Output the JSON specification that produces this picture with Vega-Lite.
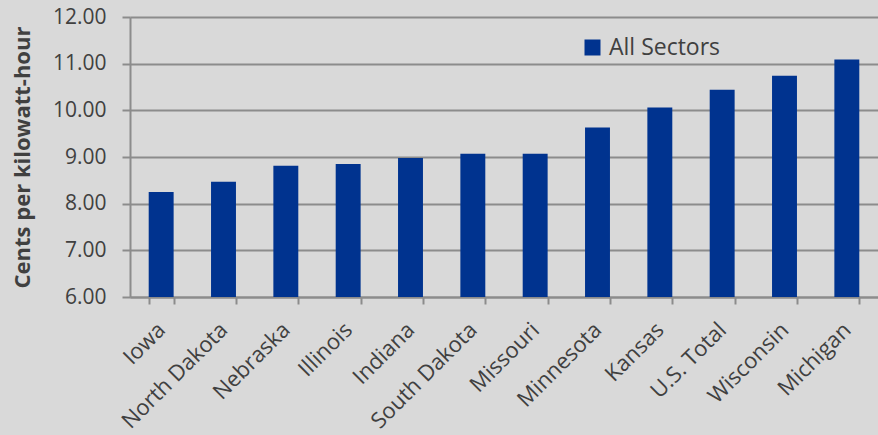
{
  "$schema": "https://vega.github.io/schema/vega-lite/v6.json",
  "width": 748,
  "height": 280,
  "autosize": "none",
  "padding": {"left": 130, "top": 17, "right": 0, "bottom": 138},
  "background": "#d9d9d9",
  "config": {
    "view": {"stroke": null},
    "font": "Open Sans",
    "axis": {"labelColor": "#404040", "titleColor": "#404040"}
  },
  "data": {
    "values": [
      {"state": "Iowa", "cents": 8.25, "series": "All Sectors"},
      {"state": "North Dakota", "cents": 8.47, "series": "All Sectors"},
      {"state": "Nebraska", "cents": 8.81, "series": "All Sectors"},
      {"state": "Illinois", "cents": 8.85, "series": "All Sectors"},
      {"state": "Indiana", "cents": 8.98, "series": "All Sectors"},
      {"state": "South Dakota", "cents": 9.07, "series": "All Sectors"},
      {"state": "Missouri", "cents": 9.07, "series": "All Sectors"},
      {"state": "Minnesota", "cents": 9.63, "series": "All Sectors"},
      {"state": "Kansas", "cents": 10.06, "series": "All Sectors"},
      {"state": "U.S. Total", "cents": 10.44, "series": "All Sectors"},
      {"state": "Wisconsin", "cents": 10.74, "series": "All Sectors"},
      {"state": "Michigan", "cents": 11.09, "series": "All Sectors"}
    ]
  },
  "mark": {"type": "bar", "clip": true},
  "encoding": {
    "x": {
      "field": "state",
      "type": "nominal",
      "sort": null,
      "scale": {"paddingInner": 0.6, "paddingOuter": 0.3},
      "axis": {
        "title": null,
        "labelAngle": -45,
        "labelAlign": "right",
        "labelBaseline": "middle",
        "labelFontSize": 22,
        "labelPadding": 22,
        "tickBand": "extent",
        "tickSize": 7,
        "tickColor": "#8c8c8c",
        "tickWidth": 2,
        "domainColor": "#8c8c8c",
        "domainWidth": 2
      }
    },
    "y": {
      "field": "cents",
      "type": "quantitative",
      "scale": {"domain": [6, 12], "nice": false, "zero": false},
      "axis": {
        "title": "Cents per kilowatt-hour",
        "titleFontSize": 22,
        "titleFontWeight": "bold",
        "titlePadding": 18,
        "format": ".2f",
        "values": [6, 7, 8, 9, 10, 11, 12],
        "labelFontSize": 21,
        "labelPadding": 16,
        "tickSize": 8,
        "tickColor": "#8c8c8c",
        "tickWidth": 2,
        "grid": true,
        "gridColor": "#8c8c8c",
        "gridWidth": 2,
        "domainColor": "#8c8c8c",
        "domainWidth": 2
      }
    },
    "color": {
      "field": "series",
      "type": "nominal",
      "scale": {"range": ["#00338f"]},
      "legend": {
        "title": null,
        "orient": "none",
        "legendX": 451,
        "legendY": 19,
        "symbolType": "square",
        "symbolSize": 256,
        "symbolStrokeWidth": 0,
        "labelFontSize": 23,
        "labelColor": "#404040",
        "labelOffset": 5
      }
    }
  }
}
